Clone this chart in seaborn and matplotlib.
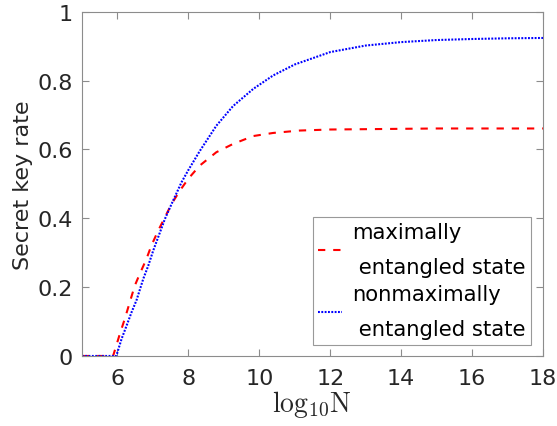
import matplotlib
matplotlib.use("Agg")
import matplotlib.pyplot as plt
import seaborn as sns
import pandas as pd

# Secret key rate versus log10 of the number of signals N
x_max = [5, 5.5, 5.88, 6.07, 6.21, 6.35, 6.49, 6.63, 6.82, 6.96, 7.15, 7.34, 7.53,
         7.76, 8.0, 8.32, 8.79, 9.26, 9.83, 10.39, 11.14, 12, 13, 14, 15, 16, 17, 18]
rate_max = [0, 0, 0, 0.064, 0.108, 0.156, 0.204, 0.238, 0.282, 0.321, 0.364, 0.403,
            0.442, 0.48, 0.515, 0.553, 0.592, 0.616, 0.639, 0.648, 0.655, 0.658,
            0.659, 0.66, 0.661, 0.661, 0.661, 0.661]

x_nonmax = [5, 5.5, 5.97, 6.12, 6.26, 6.4, 6.54, 6.73, 6.87, 7.01, 7.15, 7.34, 7.53,
            7.81, 8.0, 8.32, 8.79, 9.26, 9.83, 10.39, 11.0, 12, 13, 14, 15, 16, 17, 18]
rate_nonmax = [0, 0, 0, 0.05, 0.088, 0.127, 0.162, 0.224, 0.262, 0.306, 0.345, 0.398,
               0.442, 0.505, 0.54, 0.595, 0.669, 0.726, 0.776, 0.815, 0.847, 0.883,
               0.902, 0.912, 0.918, 0.921, 0.923, 0.924]

labels = ["maximally\n entangled state", "nonmaximally\n entangled state"]
x_ticks = [6, 8, 10, 12, 14, 16, 18]
y_ticks = [0, 0.2, 0.4, 0.6, 0.8, 1]
y_tick_labels = ["0", "0.2", "0.4", "0.6", "0.8", "1"]

sns.set_style("white")
plt.rcParams["font.family"] = ["DejaVu Sans"]
plt.rcParams["mathtext.fontset"] = "cm"

axis_grey = "#8c8c8c"
text_dark = "#262626"

df_max = pd.DataFrame({"logN": x_max, "rate": rate_max})
df_non = pd.DataFrame({"logN": x_nonmax, "rate": rate_nonmax})

fig = plt.figure(figsize=(5.57, 4.27), dpi=100)
ax = fig.add_axes([0.147, 0.164, 0.828, 0.806])

sns.lineplot(data=df_max, x="logN", y="rate", color="#ff0000", lw=1.5,
             linestyle="--", ax=ax)
sns.lineplot(data=df_non, x="logN", y="rate", color="#0000ff", lw=1.5,
             linestyle=":", ax=ax)
l_red, l_blue = ax.get_lines()[:2]
l_red.set_dashes([3.5, 3.8])
l_blue.set_dashes([0.9, 0.7])

ax.set_xlim(5, 18)
ax.set_ylim(0, 1)
ax.set_xticks(x_ticks)
ax.set_yticks(y_ticks)
ax.set_yticklabels(y_tick_labels)

for s in ax.spines.values():
    s.set_color(axis_grey)
    s.set_linewidth(0.8)
    s.set_visible(True)

ax.tick_params(direction="in", length=5, width=0.8, color=axis_grey,
               labelcolor=text_dark, labelsize=16, top=True, right=True,
               bottom=True, left=True)
ax.tick_params(axis="y", pad=6.5)
ax.tick_params(axis="x", pad=9)

ax.set_ylabel("Secret key rate", fontsize=16, color=text_dark, labelpad=3)
ax.set_xlabel(r"$\mathrm{log_{10}N}$", fontsize=20, color=text_dark, labelpad=0)

leg = ax.legend([l_red, l_blue], labels, loc="lower right",
                bbox_to_anchor=(0.973, 0.033), fontsize=15.2, frameon=True,
                fancybox=False, framealpha=1, edgecolor="#999999",
                handlelength=1.15, handletextpad=0.45, borderpad=0.25,
                labelspacing=0.32, borderaxespad=0)
leg.get_frame().set_linewidth(0.8)
for t in leg.get_texts():
    t.set_linespacing(1.95)
    t.set_color("black")

fig.savefig("out.png", dpi=100)
